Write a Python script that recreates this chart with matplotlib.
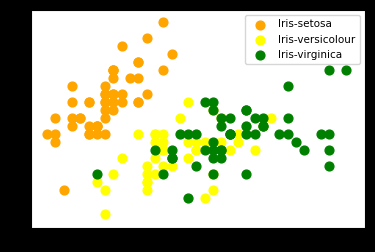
import matplotlib
matplotlib.use("Agg")
from matplotlib import pyplot as plt

# iris sepal length / sepal width
setosa_x = [5.1, 4.9, 4.7, 4.6, 5.0, 5.4, 4.6, 5.0, 4.4, 4.9, 5.4, 4.8, 4.8, 4.3, 5.8, 5.7, 5.4,
            5.1, 5.7, 5.1, 5.4, 5.1, 4.6, 5.1, 4.8, 5.0, 5.0, 5.2, 5.2, 4.7, 4.8, 5.4, 5.2, 5.5,
            4.9, 5.0, 5.5, 4.9, 4.4, 5.1, 5.0, 4.5, 4.4, 5.0, 5.1, 4.8, 5.1, 4.6, 5.3, 5.0]
setosa_y = [3.5, 3.0, 3.2, 3.1, 3.6, 3.9, 3.4, 3.4, 2.9, 3.1, 3.7, 3.4, 3.0, 3.0, 4.0, 4.4, 3.9,
            3.5, 3.8, 3.8, 3.4, 3.7, 3.6, 3.3, 3.4, 3.0, 3.4, 3.5, 3.4, 3.2, 3.1, 3.4, 4.1, 4.2,
            3.1, 3.2, 3.5, 3.1, 3.0, 3.4, 3.5, 2.3, 3.2, 3.5, 3.8, 3.0, 3.8, 3.2, 3.7, 3.3]
versi_x = [7.0, 6.4, 6.9, 5.5, 6.5, 5.7, 6.3, 4.9, 6.6, 5.2, 5.0, 5.9, 6.0, 6.1, 5.6, 6.7, 5.6,
           5.8, 6.2, 5.6, 5.9, 6.1, 6.3, 6.1, 6.4, 6.6, 6.8, 6.7, 6.0, 5.7, 5.5, 5.5, 5.8, 6.0,
           5.4, 6.0, 6.7, 6.3, 5.6, 5.5, 5.5, 6.1, 5.8, 5.0, 5.6, 5.7, 5.7, 6.2, 5.1, 5.7]
versi_y = [3.2, 3.2, 3.1, 2.3, 2.8, 2.8, 3.3, 2.4, 2.9, 2.7, 2.0, 3.0, 2.2, 2.9, 2.9, 3.1, 3.0,
           2.7, 2.2, 2.5, 3.2, 2.8, 2.5, 2.8, 2.9, 3.0, 2.8, 3.0, 2.9, 2.6, 2.4, 2.4, 2.7, 2.7,
           3.0, 3.4, 3.1, 2.3, 3.0, 2.5, 2.6, 3.0, 2.6, 2.3, 2.7, 3.0, 2.9, 2.9, 2.5, 2.8]
virg_x = [6.3, 5.8, 7.1, 6.3, 6.5, 7.6, 4.9, 7.3, 6.7, 7.2, 6.5, 6.4, 6.8, 5.7, 5.8, 6.4, 6.5,
          7.7, 7.7, 6.0, 6.9, 5.6, 7.7, 6.3, 6.7, 7.2, 6.2, 6.1, 6.4, 7.2, 7.4, 7.9, 6.4, 6.3,
          6.1, 7.7, 6.3, 6.4, 6.0, 6.9, 6.7, 6.9, 5.8, 6.8, 6.7, 6.7, 6.3, 6.5, 6.2, 5.9]
virg_y = [3.3, 2.7, 3.0, 2.9, 3.0, 3.0, 2.5, 2.9, 2.5, 3.6, 3.2, 2.7, 3.0, 2.5, 2.8, 3.2, 3.0,
          3.8, 2.6, 2.2, 3.2, 2.8, 2.8, 2.7, 3.3, 3.2, 2.8, 3.0, 2.8, 3.0, 2.8, 3.8, 2.8, 2.8,
          2.6, 3.0, 3.4, 3.1, 3.0, 3.1, 3.1, 3.1, 2.7, 3.2, 3.3, 3.0, 2.5, 3.0, 3.4, 3.0]

fig = plt.figure(figsize=(3.75, 2.52), dpi=100, facecolor='black')
ax = fig.add_axes([31/375, 1 - 228/252, 334/375, 218/252])
ax.scatter(setosa_x, setosa_y, color='orange', s=40, label='Iris-setosa')
ax.scatter(versi_x, versi_y, color='yellow', s=40, label='Iris-versicolour')
ax.scatter(virg_x, virg_y, color='green', s=40, label='Iris-virginica')
ax.set_xlim(4.107, 8.13)
ax.set_ylim(1.825, 4.55)
ax.tick_params(colors='black')
ax.legend(loc='upper right', fontsize=7.5)
plt.savefig('out.png', facecolor='black')
